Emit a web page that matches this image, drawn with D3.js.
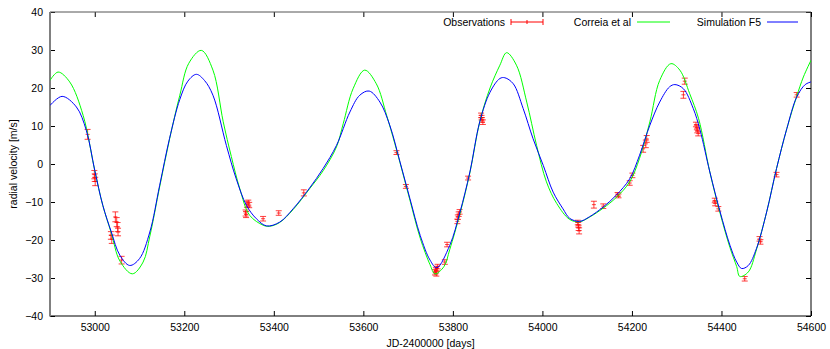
<!DOCTYPE html>
<html>
<head>
<meta charset="utf-8">
<script src="https://cdn.jsdelivr.net/npm/d3@7"></script>
<style>
  body { margin: 0; background: #fff; }
  svg { display: block; font-family: "Liberation Sans", Arial, sans-serif; }
</style>
</head>
<body>
<div id="rvVis"></div>
<script>
// observations: day, radial velocity, error
var obsDay = [52984, 52999, 53000, 53001, 53036, 53038, 53046, 53049, 53051, 53052, 53060,
    53337, 53338, 53340, 53343, 53345, 53376, 53411, 53467,
    53674, 53695, 53760, 53762, 53763, 53764, 53766, 53782, 53787,
    53810, 53811, 53813, 53815, 53834, 53863, 53864, 53865, 53867,
    54079, 54080, 54081, 54082, 54115, 54136, 54168, 54170, 54195, 54201,
    54225, 54231, 54233, 54315, 54318, 54343, 54345, 54346, 54348,
    54385, 54386, 54393, 54452, 54485, 54487, 54523, 54568];
var obsRv = [7.8, -2.8, -3.6, -4.6, -18.8, -19.8, -13.9, -15.3, -16.6, -17.9, -25.3,
    -12.9, -13.3, -10.6, -10.3, -10.8, -14.4, -12.9, -7.6,
    3.0, -5.9, -28.5, -28.0, -28.9, -27.5, -27.0, -25.8, -21.2,
    -15.1, -14.0, -13.2, -12.6, -3.7, 12.8, 12.2, 11.6, 11.0,
    -15.4, -16.0, -16.8, -17.6, -10.7, -11.1, -8.0, -8.4, -5.0, -3.0,
    4.0, 5.3, 6.6, 18.2, 21.8, 10.4, 9.6, 8.8, 8.0,
    -9.6, -10.4, -11.8, -30.2, -19.7, -20.5, -2.8, 18.2];
var obsErr = [1.3, 1.1, 1.0, 1.1, 1.0, 1.1, 1.3, 1.2, 1.2, 1.0, 1.0,
    0.8, 0.8, 0.8, 0.8, 0.7, 0.6, 0.6, 0.8,
    0.5, 0.5, 0.7, 0.7, 0.6, 0.6, 0.6, 0.6, 0.6,
    0.6, 0.6, 0.6, 0.6, 0.5, 0.6, 0.6, 0.6, 0.6,
    0.6, 0.6, 0.7, 0.8, 0.9, 0.6, 0.5, 0.5, 0.6, 0.6,
    0.9, 1.0, 0.9, 0.9, 0.8, 0.6, 0.6, 0.6, 0.6,
    0.6, 0.6, 0.6, 0.6, 0.6, 0.6, 0.6, 0.6];

// Correia et al model curve
var correiaDay = [52900, 52918, 52944, 52974, 53000, 53018, 53037, 53056, 53084, 53108, 53123, 53145, 53167, 53190,
    53210, 53238, 53264, 53287, 53305, 53324, 53346, 53376, 53390, 53413, 53443, 53480, 53510, 53540,
    53555, 53577, 53603, 53629, 53652, 53670, 53682, 53704, 53727, 53749, 53760, 53780, 53793, 53816,
    53838, 53860, 53883, 53905, 53920, 53942, 53965, 53987, 54009, 54032, 54061, 54083, 54105, 54136,
    54165, 54195, 54217, 54240, 54262, 54287, 54307, 54329, 54349, 54374, 54397, 54419, 54434, 54441,
    54460, 54478, 54501, 54523, 54546, 54568, 54583, 54600];
var correiaRv = [22.0, 24.2, 21.6, 12.8, -1.7, -10.9, -18.2, -25.5, -28.9, -25.8, -19.0, -6.0, 6.5, 18.1,
    26.5, 29.9, 24.7, 11.1, 2.0, -6.5, -13.5, -16.1, -16.4, -15.4, -12.0, -6.5, -1.8, 4.5,
    10.6, 19.8, 24.7, 21.1, 12.8, 5.5, 0.3, -9.5, -19.5, -26.5, -28.9, -27.0, -22.5, -13.0,
    -2.3, 11.1, 20.0, 26.0, 29.3, 26.0, 16.3, 4.9, -4.7, -10.4, -14.6, -15.2, -14.0, -11.6,
    -8.8, -4.7, 1.5, 11.1, 22.0, 26.4, 24.7, 18.5, 11.9, -2.1, -13.0, -22.0, -27.0, -29.6,
    -28.4, -22.6, -12.6, -1.2, 9.3, 17.8, 22.9, 27.3];

// Simulation F5 curve
var simDay = [52900, 52927, 52959, 52981, 53000, 53018, 53037, 53056, 53078, 53100, 53123, 53145, 53167, 53190,
    53208, 53227, 53245, 53264, 53294, 53316, 53339, 53361, 53384, 53413, 53443, 53480, 53510, 53540,
    53570, 53592, 53613, 53637, 53659, 53682, 53704, 53727, 53749, 53764, 53793, 53816, 53838, 53860,
    53883, 53905, 53916, 53935, 53957, 53979, 54002, 54024, 54046, 54061, 54083, 54105, 54136, 54165,
    54195, 54217, 54240, 54262, 54284, 54296, 54315, 54337, 54352, 54374, 54397, 54419, 54434, 54445,
    54460, 54478, 54501, 54523, 54546, 54568, 54587, 54600];
var simRv = [15.4, 17.8, 15.0, 8.9, -1.7, -10.9, -17.9, -24.0, -26.7, -24.9, -17.9, -5.6, 6.7, 17.0,
    21.8, 23.6, 22.0, 18.1, 4.9, -3.9, -10.9, -14.4, -16.3, -15.3, -11.8, -6.3, -1.2, 4.9,
    13.7, 18.1, 19.2, 16.3, 10.2, 0.5, -9.1, -18.8, -25.3, -27.3, -21.4, -12.6, -2.1, 11.1,
    18.9, 22.5, 22.7, 21.1, 14.6, 6.7, -0.4, -7.4, -11.8, -14.3, -15.1, -13.9, -11.3, -8.2,
    -3.9, 2.3, 10.2, 16.3, 20.3, 20.9, 19.8, 14.6, 9.0, -2.1, -12.6, -21.4, -25.8, -27.5,
    -26.7, -22.3, -12.6, -1.2, 9.3, 17.6, 20.9, 21.6];

var xTicks = [53000, 53200, 53400, 53600, 53800, 54000, 54200, 54400, 54600];
var yTicks = [-40, -30, -20, -10, 0, 10, 20, 30, 40];

// basic dimensions
var width = 830;
var height = 349;
var plot = { left: 50, right: 811, top: 12, bottom: 316 };

var xScale = d3.scaleLinear().domain([52900, 54600]).range([plot.left, plot.right]);
var yScale = d3.scaleLinear().domain([-40, 40]).range([plot.bottom, plot.top]);

var svg = d3.select("#rvVis")
    .append("svg")
    .attr("width", width)
    .attr("height", height);

// axes, ticks pointing inwards
var fontSize = "10.5px";
var intFormat = d3.format("d");

svg.append("g")
    .attr("class", "x axis")
    .attr("transform", "translate(0," + plot.bottom + ")")
    .call(d3.axisBottom(xScale).tickValues(xTicks).tickFormat(intFormat)
        .tickSizeInner(-5).tickSizeOuter(0).tickPadding(8));

svg.append("g")
    .attr("class", "x2 axis")
    .attr("transform", "translate(0," + plot.top + ")")
    .call(d3.axisTop(xScale).tickValues(xTicks).tickSizeInner(-5).tickSizeOuter(0).tickFormat(""));

svg.append("g")
    .attr("class", "y axis")
    .attr("transform", "translate(" + plot.left + ",0)")
    .call(d3.axisLeft(yScale).tickValues(yTicks).tickFormat(intFormat)
        .tickSizeInner(-5).tickSizeOuter(0).tickPadding(7));

svg.append("g")
    .attr("class", "y2 axis")
    .attr("transform", "translate(" + plot.right + ",0)")
    .call(d3.axisRight(yScale).tickValues(yTicks).tickSizeInner(-5).tickSizeOuter(0).tickFormat(""));

svg.selectAll(".axis .domain").remove();
svg.selectAll(".axis text")
    .style("font-size", fontSize)
    .style("font-family", "'Liberation Sans', Arial, sans-serif")
    .attr("fill", "#000");
svg.selectAll(".axis line").attr("stroke", "#000");

// frame: gnuplot draws the left/top edges lighter
svg.append("line")
    .attr("x1", plot.left).attr("x2", plot.right)
    .attr("y1", plot.bottom).attr("y2", plot.bottom)
    .attr("stroke", "#000");
svg.append("line")
    .attr("x1", plot.right).attr("x2", plot.right)
    .attr("y1", plot.top).attr("y2", plot.bottom)
    .attr("stroke", "#000");
svg.append("line")
    .attr("x1", plot.left).attr("x2", plot.right)
    .attr("y1", plot.top).attr("y2", plot.top)
    .attr("stroke", "#555");
svg.append("line")
    .attr("x1", plot.left).attr("x2", plot.left)
    .attr("y1", plot.top).attr("y2", plot.bottom + 0.5)
    .attr("stroke", "#808080")
    .attr("stroke-width", 2);

// axis titles
svg.append("text")
    .attr("x", (plot.left + plot.right) / 2)
    .attr("y", 347)
    .attr("text-anchor", "middle")
    .style("font-size", fontSize)
    .text("JD-2400000 [days]");

svg.append("text")
    .attr("transform", "translate(17," + (plot.top + plot.bottom) / 2 + ") rotate(-90)")
    .attr("text-anchor", "middle")
    .style("font-size", fontSize)
    .text("radial velocity [m/s]");

// curves
var lineGen = d3.line()
    .curve(d3.curveCatmullRom.alpha(0.5))
    .x(function(d) { return xScale(d[0]); })
    .y(function(d) { return yScale(d[1]); });

var curves = [
    { name: "Correia et al", colour: "#00ff00", days: correiaDay, rv: correiaRv },
    { name: "Simulation F5", colour: "#0000ff", days: simDay, rv: simRv }
];

svg.append("defs").append("clipPath")
    .attr("id", "clip")
    .append("rect")
    .attr("x", plot.left).attr("y", plot.top)
    .attr("width", plot.right - plot.left).attr("height", plot.bottom - plot.top);

var obsData = obsDay.map(function(d, i) {
    return { day: d, rv: obsRv[i], err: obsErr[i] };
});

// error bars
var obsGroup = svg.append("g")
    .attr("class", "obs")
    .attr("stroke", "#ff0000")
    .attr("stroke-width", 1)
    .attr("stroke-opacity", 0.75);

var bars = obsGroup.selectAll("g")
    .data(obsData)
    .enter()
    .append("g");

bars.append("line")
    .attr("x1", function(d) { return xScale(d.day); })
    .attr("x2", function(d) { return xScale(d.day); })
    .attr("y1", function(d) { return yScale(d.rv - d.err); })
    .attr("y2", function(d) { return yScale(d.rv + d.err); });
bars.append("line")
    .attr("x1", function(d) { return xScale(d.day) - 3; })
    .attr("x2", function(d) { return xScale(d.day) + 3; })
    .attr("y1", function(d) { return yScale(d.rv - d.err); })
    .attr("y2", function(d) { return yScale(d.rv - d.err); });
bars.append("line")
    .attr("x1", function(d) { return xScale(d.day) - 3; })
    .attr("x2", function(d) { return xScale(d.day) + 3; })
    .attr("y1", function(d) { return yScale(d.rv + d.err); })
    .attr("y2", function(d) { return yScale(d.rv + d.err); });
bars.append("line")
    .attr("x1", function(d) { return xScale(d.day) - 2; })
    .attr("x2", function(d) { return xScale(d.day) + 2; })
    .attr("y1", function(d) { return yScale(d.rv); })
    .attr("y2", function(d) { return yScale(d.rv); });

svg.append("g")
    .attr("clip-path", "url(#clip)")
    .selectAll("path")
    .data(curves)
    .enter()
    .append("path")
    .attr("d", function(c) {
        return lineGen(c.days.map(function(d, i) { return [d, c.rv[i]]; }));
    })
    .attr("fill", "none")
    .attr("stroke", function(c) { return c.colour; })
    .attr("stroke-width", 1);

// legend
var legendY = 22;
var legend = [
    { name: "Observations", colour: "#ff0000", x0: 511, x1: 543, bars: true },
    { name: "Correia et al", colour: "#00ff00", x0: 637, x1: 670, bars: false },
    { name: "Simulation F5", colour: "#0000ff", x0: 767, x1: 798, bars: false }
];

var lg = svg.selectAll(".legend")
    .data(legend)
    .enter()
    .append("g")
    .attr("class", "legend");

lg.append("text")
    .attr("x", function(d) { return d.x0 - 6; })
    .attr("y", legendY)
    .attr("dy", "0.35em")
    .attr("text-anchor", "end")
    .style("font-size", fontSize)
    .text(function(d) { return d.name; });

lg.append("line")
    .attr("x1", function(d) { return d.x0; })
    .attr("x2", function(d) { return d.x1; })
    .attr("y1", legendY).attr("y2", legendY)
    .attr("stroke", function(d) { return d.colour; });

var lgBars = lg.filter(function(d) { return d.bars; });
lgBars.append("line")
    .attr("x1", function(d) { return d.x0; }).attr("x2", function(d) { return d.x0; })
    .attr("y1", legendY - 3).attr("y2", legendY + 3)
    .attr("stroke", "#ff0000");
lgBars.append("line")
    .attr("x1", function(d) { return d.x1; }).attr("x2", function(d) { return d.x1; })
    .attr("y1", legendY - 3).attr("y2", legendY + 3)
    .attr("stroke", "#ff0000");
lgBars.append("line")
    .attr("x1", function(d) { return (d.x0 + d.x1) / 2; }).attr("x2", function(d) { return (d.x0 + d.x1) / 2; })
    .attr("y1", legendY - 2).attr("y2", legendY + 2)
    .attr("stroke", "#ff0000");
</script>
</body>
</html>
